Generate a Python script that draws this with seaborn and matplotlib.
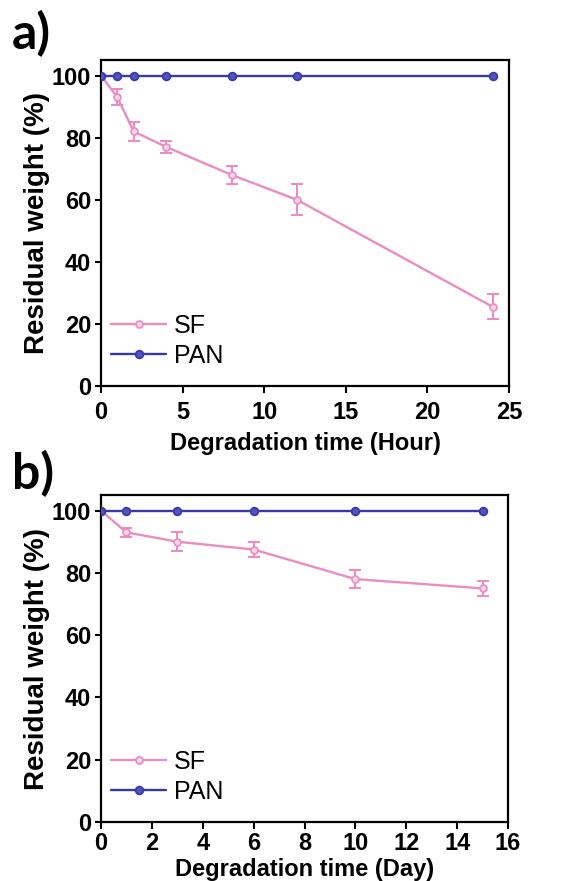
import numpy as np
import pandas as pd
import seaborn as sns
import matplotlib.pyplot as plt

# panel a: hours
hours = [0, 1, 2, 4, 8, 12, 24]
sf_hour = [100, 93, 82, 77, 68, 60, 25.5]
sf_hour_err = [0, 2.5, 3, 2, 3, 5, 4]
pan_hour = [100, 100, 100, 100, 100, 100, 100]

# panel b: days
days = [0, 1, 3, 6, 10, 15]
sf_day = [100, 93, 90, 87.5, 78, 75]
sf_day_err = [0, 1.5, 3, 2.5, 3, 2.5]
pan_day = [100, 100, 100, 100, 100, 100]

sf_color = '#e98dc2'
pan_color = '#3a3aa6'

sns.set_style('ticks')
plt.rcParams['font.family'] = ['Liberation Sans', 'DejaVu Sans']
plt.rcParams['text.color'] = 'black'
plt.rcParams['axes.labelcolor'] = 'black'
plt.rcParams['xtick.color'] = 'black'
plt.rcParams['ytick.color'] = 'black'

fig = plt.figure(figsize=(5.61, 8.81), dpi=100)
ax_a = fig.add_axes([101/561, 1 - 386/881, 408/561, 326/881])
ax_b = fig.add_axes([101/561, 1 - 822/881, 407/561, 327/881])


def draw_panel(ax, x, sf, sf_err, pan, xmax, xticks, xlabel, xlab_y, tick_pad):
    df = pd.DataFrame({'time': x, 'SF': sf, 'PAN': pan})
    ax.errorbar(df['time'], df['SF'], yerr=sf_err, fmt='none', ecolor=sf_color,
                elinewidth=1.5, capsize=4, capthick=1.5, zorder=2)
    sns.lineplot(data=df, x='time', y='SF', ax=ax, color=sf_color, lw=1.7,
                 marker='o', markersize=5, markerfacecolor='#f6d4e8',
                 markeredgecolor=sf_color, markeredgewidth=1.2, label='SF', zorder=3)
    sns.lineplot(data=df, x='time', y='PAN', ax=ax, color=pan_color, lw=1.7,
                 marker='o', markersize=5.5, markerfacecolor='#5252c0',
                 markeredgecolor=pan_color, markeredgewidth=1.3, label='PAN', zorder=4)
    ax.set_xlim(0, xmax)
    ax.set_ylim(0, 105)
    ax.set_xticks(xticks)
    ax.set_yticks([0, 20, 40, 60, 80, 100])
    for s in ax.spines.values():
        s.set_visible(True)
        s.set_linewidth(1.6)
        s.set_color('black')
    ax.tick_params(axis='x', direction='out', length=5, width=1.5, pad=tick_pad)
    ax.tick_params(axis='y', direction='out', length=4, width=1.5, pad=3)
    for lab in ax.get_xticklabels() + ax.get_yticklabels():
        lab.set_fontsize(17)
        lab.set_fontweight('bold')
    ax.set_xlabel(xlabel, fontsize=17, fontweight='bold')
    ax.set_ylabel('Residual weight (%)', fontsize=20, fontweight='bold')
    ax.xaxis.set_label_coords(0.5, xlab_y)
    ax.yaxis.set_label_coords(-0.125, 0.5)
    ax.legend(loc='lower left', bbox_to_anchor=(0.0, 0.025), frameon=False,
              fontsize=18, handlelength=2.2, handletextpad=0.3,
              labelspacing=0.25, borderpad=0.2, borderaxespad=0.2)


draw_panel(ax_a, hours, sf_hour, sf_hour_err, pan_hour, 25, [0, 5, 10, 15, 20, 25],
           'Degradation time (Hour)', -0.14, 6)
draw_panel(ax_b, days, sf_day, sf_day_err, pan_day, 16, list(range(0, 17, 2)),
           'Degradation time (Day)', -0.11, 2)

fig.text(12/561, 1 - 49/881, 'a)', fontsize=36, fontweight='bold',
         family=['Lato', 'DejaVu Sans'], va='baseline')
fig.text(12/561, 1 - 489/881, 'b)', fontsize=36, fontweight='bold',
         family=['Lato', 'DejaVu Sans'], va='baseline')

fig.savefig('out.png', dpi=100)
